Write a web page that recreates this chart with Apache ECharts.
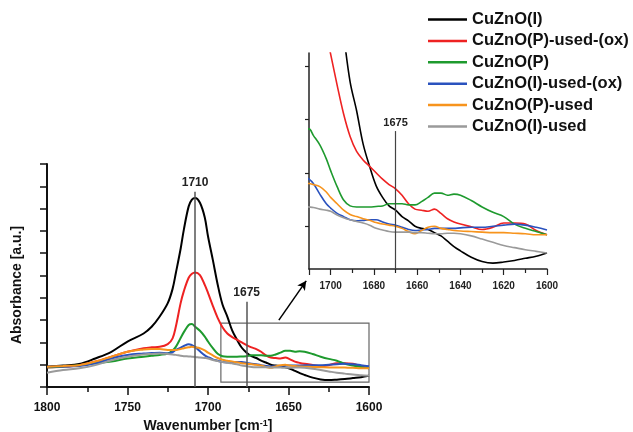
<!DOCTYPE html>
<html>
<head>
<meta charset="utf-8">
<script src="https://cdn.jsdelivr.net/npm/echarts@6/dist/echarts.min.js"></script>
<style>html,body{margin:0;padding:0;background:#fff;}#c{width:633px;height:432px;}</style>
</head>
<body>
<div id="c"></div>
<script>
// ---- data ----
var wavenumbers = [1800,1790,1780,1770,1760,1750,1740,1735,1730,1725,1722,1720,1717,1715,1712,1710,1708,1705,1702,1700,1697,1694,1691,1688,1685,1682,1679,1676,1673,1670,1667,1664,1661,1658,1655,1652,1649,1646,1643,1640,1635,1630,1625,1620,1615,1610,1605,1600];
var seriesNames = ['CuZnO(I)','CuZnO(P)-used-(ox)','CuZnO(P)','CuZnO(I)-used-(ox)','CuZnO(P)-used','CuZnO(I)-used'];
var cuznoI = [-0.045,-0.02,0.015,0.14,0.29,0.52,0.70,0.85,1.08,1.38,1.70,2.05,2.60,3.03,3.55,3.70,3.74,3.63,3.30,2.88,2.35,1.80,1.35,1.08,0.77,0.56,0.38,0.27,0.19,0.15,0.09,0.05,0.0,-0.02,-0.03,-0.06,-0.09,-0.14,-0.19,-0.23,-0.29,-0.33,-0.345,-0.335,-0.32,-0.30,-0.28,-0.25];
var cuznoPusedOx = [-0.06,-0.045,-0.01,0.07,0.18,0.29,0.37,0.39,0.40,0.46,0.59,0.85,1.38,1.65,1.95,2.04,2.07,2.01,1.79,1.61,1.32,1.05,0.84,0.70,0.62,0.56,0.50,0.44,0.39,0.35,0.29,0.21,0.16,0.15,0.14,0.16,0.12,0.07,0.04,0.02,-0.005,-0.03,-0.01,0.03,0.03,0.02,-0.04,-0.08];
var cuznoP = [-0.06,-0.04,-0.01,0.03,0.07,0.14,0.18,0.20,0.22,0.25,0.32,0.40,0.60,0.73,0.89,0.91,0.85,0.76,0.63,0.52,0.37,0.245,0.19,0.18,0.18,0.18,0.185,0.19,0.21,0.21,0.21,0.20,0.20,0.23,0.27,0.31,0.31,0.29,0.30,0.29,0.24,0.18,0.13,0.09,0.02,-0.02,-0.05,-0.08];
var cuznoIusedOx = [-0.045,-0.04,-0.03,0.03,0.14,0.22,0.25,0.26,0.27,0.25,0.28,0.33,0.38,0.42,0.46,0.44,0.40,0.30,0.21,0.17,0.12,0.09,0.06,0.05,0.055,0.06,0.06,0.04,0.02,0.01,-0.01,-0.03,-0.04,-0.035,-0.03,-0.02,-0.02,-0.02,-0.02,-0.015,-0.01,-0.01,0.0,0.01,0.02,0.01,-0.01,-0.035];
var cuznoPused = [-0.045,-0.03,-0.01,0.07,0.18,0.29,0.34,0.35,0.35,0.33,0.33,0.33,0.35,0.37,0.39,0.40,0.39,0.37,0.32,0.27,0.21,0.15,0.11,0.09,0.07,0.055,0.035,0.02,0.01,0.0,-0.02,-0.05,-0.07,-0.04,-0.01,0.0,-0.02,-0.03,-0.04,-0.045,-0.05,-0.055,-0.06,-0.06,-0.065,-0.07,-0.08,-0.08];
var cuznoIused = [-0.18,-0.12,-0.08,-0.01,0.10,0.18,0.23,0.24,0.25,0.24,0.23,0.22,0.20,0.19,0.185,0.18,0.175,0.16,0.15,0.14,0.105,0.08,0.06,0.045,0.03,0.01,-0.02,-0.035,-0.05,-0.055,-0.055,-0.055,-0.06,-0.06,-0.065,-0.07,-0.07,-0.065,-0.065,-0.07,-0.09,-0.12,-0.15,-0.18,-0.20,-0.22,-0.235,-0.25];
var mainXTicks = [1800,1750,1700,1650,1600];
var insetXTicks = [1700,1680,1660,1640,1620,1600];
var peakLine = [1708, -0.5, 3.88];      // x, from, to
var peakLabel = '1710';
var shoulderLine = [1676, -0.5, 1.41];
var shoulderLabel = '1675';
var zoomBox = [1692, 0.93, 1600, -0.39];
var arrowLine = [1656, 1.0, 1639, 1.88];
var insetLine = [1670, -0.4, 0.89];
var insetLabel = '1675';

// ---- chart ----
var colors = ['#000000','#ee2222','#1e9a2e','#2a52be','#f7941d','#9a9a9a'];
var values = [cuznoI, cuznoPusedOx, cuznoP, cuznoIusedOx, cuznoPused, cuznoIused];
function pairs(v){ return wavenumbers.map(function(w,i){ return [w, v[i]]; }); }
var FONT = 'Arial, "Liberation Sans", sans-serif';
var series = [];
seriesNames.forEach(function(n,i){
  series.push({name:n,type:'line',xAxisIndex:0,yAxisIndex:0,data:pairs(values[i]),showSymbol:false,symbol:'none',smooth:0.35,
    lineStyle:{color:colors[i],width:2},itemStyle:{color:colors[i]},z:3, animation:false});
});
seriesNames.forEach(function(n,i){
  series.push({name:n,type:'line',xAxisIndex:1,yAxisIndex:1,data:pairs(values[i]),showSymbol:false,symbol:'none',smooth:0.35,clip:true,
    lineStyle:{color:colors[i],width:1.6},itemStyle:{color:colors[i]},z:3,animation:false});
});
var annoLabel = {show:true,position:'end',formatter:'{b}',distance:3,fontFamily:FONT,fontWeight:'bold',fontSize:12,color:'#222'};
series[0].markLine = {silent:true,symbol:'none',animation:false,lineStyle:{color:'#555',width:1.5,type:'solid'},label:annoLabel,
  data:[
    [{name:peakLabel,coord:[peakLine[0],peakLine[1]]},{coord:[peakLine[0],peakLine[2]]}],
    [{name:shoulderLabel,coord:[shoulderLine[0],shoulderLine[1]]},{coord:[shoulderLine[0],shoulderLine[2]]}],
    [{name:'',coord:[arrowLine[0],arrowLine[1]],symbol:'none',lineStyle:{color:'#000',width:1.5},label:{show:false}},
     {coord:[arrowLine[2],arrowLine[3]],symbol:'arrow',symbolSize:[7,9]}]
  ]};
series[0].markArea = {silent:true,animation:false,itemStyle:{color:'rgba(0,0,0,0)',borderColor:'#666',borderWidth:1.2},
  data:[[{coord:[zoomBox[0],zoomBox[1]]},{coord:[zoomBox[2],zoomBox[3]]}]]};
series[6].markLine = {silent:true,symbol:'none',animation:false,lineStyle:{color:'#444',width:1.2,type:'solid'},
  label:Object.assign({},annoLabel,{fontSize:11}),
  data:[[{name:insetLabel,coord:[insetLine[0],insetLine[1]]},{coord:[insetLine[0],insetLine[2]]}]]};

function plain(v){ return String(v); }
var axisLineMain = {show:true,onZero:false,lineStyle:{color:'#111',width:2}};
var axisLineInset = {show:true,onZero:false,lineStyle:{color:'#222',width:1.5}};
var option = {
  animation:false,
  backgroundColor:'#fff',
  legend:{orient:'vertical',left:428,top:9,padding:0,itemWidth:39,itemHeight:2.5,itemGap:0.4,icon:'rect',selectedMode:false,
    data:seriesNames,textStyle:{fontFamily:FONT,fontWeight:'bold',fontSize:16.5,color:'#111',lineHeight:21,padding:[0,0,0,0]}},
  grid:[{left:47,top:164,width:322,height:223,outerBoundsMode:'none',containLabel:false},
        {left:309,top:53,width:238,height:216,outerBoundsMode:'none',containLabel:false}],
  xAxis:[
    {type:'value',gridIndex:0,min:1600,max:1800,inverse:true,interval:50,
     axisLine:axisLineMain,axisTick:{show:true,length:8,lineStyle:{color:'#111',width:1.5}},
     minorTick:{show:true,splitNumber:2,length:5,lineStyle:{color:'#111',width:1.5}},
     splitLine:{show:false},minorSplitLine:{show:false},
     axisLabel:{fontFamily:FONT,fontWeight:'bold',fontSize:12,color:'#111',margin:15,formatter:plain,
       customValues:mainXTicks},
     name:'Wavenumber [cm{sup|-1}]',nameLocation:'middle',nameGap:31,
     nameTextStyle:{fontFamily:FONT,fontWeight:'bold',fontSize:14,color:'#111',rich:{sup:{fontSize:9,fontWeight:'bold',fontFamily:FONT,verticalAlign:'top',padding:[0,0,6,0]}}}},
    {type:'value',gridIndex:1,min:1600,max:1710,inverse:true,interval:20,
     axisLine:axisLineInset,axisTick:{show:true,length:6,lineStyle:{color:'#222',width:1.2}},
     minorTick:{show:true,splitNumber:2,length:4,lineStyle:{color:'#222',width:1.2}},
     splitLine:{show:false},minorSplitLine:{show:false},
     axisLabel:{fontFamily:FONT,fontWeight:'bold',fontSize:10,color:'#222',margin:12,formatter:plain,customValues:insetXTicks}}
  ],
  yAxis:[
    {type:'value',gridIndex:0,min:-0.5,max:4.5,interval:0.5,
     axisLine:axisLineMain,axisTick:{show:true,length:7,lineStyle:{color:'#111',width:1.5}},
     splitLine:{show:false},axisLabel:{show:false}},
    {type:'value',gridIndex:1,min:-0.4,max:1.62,interval:0.5,
     axisLine:axisLineInset,axisTick:{show:true,length:4,customValues:[0,0.5,1,1.5],lineStyle:{color:'#222',width:1.2}},
     splitLine:{show:false},axisLabel:{show:false}}
  ],
  graphic:[{type:'text',x:17,y:285,rotation:Math.PI/2,
    style:{text:'Absorbance [a.u.]',fontFamily:FONT,fontWeight:'bold',fontSize:14,fill:'#111',textAlign:'center',textVerticalAlign:'middle'}}],
  series:series
};
var chart = echarts.init(document.getElementById('c'),null,{renderer:'canvas'});
chart.setOption(option);
</script>
</body>
</html>
